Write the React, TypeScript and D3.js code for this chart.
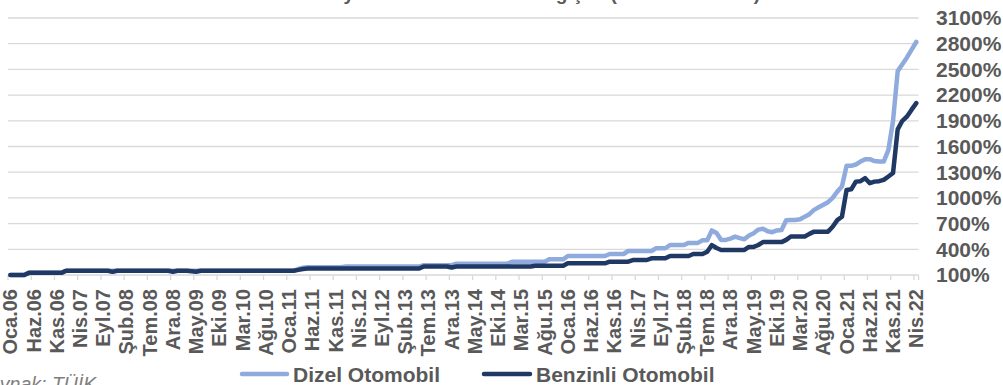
import React from "react";
import * as d3 from "d3";

const MONTHS = ["Oca", "Şub", "Mar", "Nis", "May", "Haz", "Tem", "Ağu", "Eyl", "Eki", "Kas", "Ara"];
const START_YEAR = 2006;
const N_MONTHS = 196; // Oca.06 .. Nis.22

const categories: string[] = Array.from({ length: N_MONTHS }, (_, i) => {
  const y = START_YEAR + Math.floor(i / 12);
  return `${MONTHS[i % 12]}.${String(y % 100).padStart(2, "0")}`;
});

const Y_TICKS = [100, 400, 700, 1000, 1300, 1600, 1900, 2200, 2500, 2800, 3100];

const dizel: number[] = [
  100, 100, 100, 100, 125, 125, 125, 125, 125, 125, 125, 125,
  150, 150, 150, 150, 150, 150, 150, 150, 150, 150, 150, 150,
  150, 150, 150, 150, 150, 150, 150, 150, 150, 150, 150, 150,
  150, 150, 150, 150, 150, 150, 150, 150, 150, 150, 150, 150,
  150, 150, 150, 150, 150, 150, 150, 150, 150, 150, 150, 150,
  150, 150, 170, 185, 190, 190, 190, 190, 190, 190, 190, 190,
  198, 198, 198, 198, 198, 198, 198, 198, 198, 198, 198, 198,
  198, 198, 198, 198, 198, 215, 215, 215, 215, 215, 215, 215,
  232, 232, 232, 232, 232, 232, 232, 232, 232, 232, 232, 232,
  255, 255, 255, 255, 255, 255, 255, 255, 283, 283, 283, 283,
  322, 322, 322, 322, 322, 322, 322, 322, 322, 345, 345, 345,
  345, 380, 380, 380, 380, 380, 380, 412, 412, 412, 450, 450,
  450, 450, 475, 475, 475, 505, 505, 620, 590, 510, 510, 525,
  548, 530, 517, 560, 587, 630, 640, 610, 600, 620, 626, 740,
  743, 743, 750, 781, 810, 860, 890, 920, 950, 1000, 1073, 1132,
  1374, 1374, 1390, 1424, 1452, 1452, 1430, 1424, 1424, 1560, 1900, 2480,
  2560, 2640, 2730, 2820,
];

const benzinli: number[] = [
  100, 100, 100, 100, 125, 125, 125, 125, 125, 125, 125, 125,
  150, 150, 150, 150, 150, 150, 150, 150, 150, 150, 137, 150,
  150, 150, 150, 150, 150, 150, 150, 150, 150, 150, 150, 138,
  150, 150, 150, 145, 138, 150, 150, 150, 150, 150, 150, 150,
  150, 150, 150, 150, 150, 150, 150, 150, 150, 150, 150, 150,
  150, 150, 160, 170, 175, 175, 175, 175, 175, 175, 175, 175,
  175, 175, 175, 175, 175, 175, 175, 175, 175, 175, 175, 175,
  175, 175, 175, 175, 175, 200, 200, 200, 200, 200, 200, 188,
  200, 200, 200, 200, 200, 200, 200, 200, 200, 200, 200, 200,
  200, 200, 200, 200, 200, 208, 208, 208, 208, 208, 208, 208,
  237, 237, 237, 237, 237, 237, 237, 237, 237, 256, 256, 256,
  256, 256, 275, 275, 275, 275, 295, 295, 295, 295, 322, 322,
  322, 322, 322, 345, 345, 345, 372, 450, 415, 392, 392, 392,
  392, 392, 392, 428, 428, 450, 484, 484, 484, 484, 484, 510,
  550, 550, 550, 550, 580, 606, 606, 606, 606, 664, 740, 780,
  1093, 1100, 1190, 1195, 1230, 1172, 1190, 1195, 1210, 1250, 1290, 1800,
  1900, 1950, 2030, 2106,
];

const SERIES = [
  { name: "Dizel Otomobil", values: dizel, color: "#8FAADC" },
  { name: "Benzinli Otomobil", values: benzinli, color: "#1F3864" },
];

const W = 1003;
const H = 385;
const FONT = "'Liberation Sans', Arial, sans-serif";
const TEXT = "#595959";
const GRID = "#d9d9d9";

export default function App() {
  const x = d3.scaleBand<string>().domain(categories).range([8, 918.6]).padding(0);
  const y = d3.scaleLinear().domain([100, 3100]).range([275, 18]);
  const cx = (c: string) => (x(c) as number) + x.bandwidth() / 2;

  const line = d3
    .line<number>()
    .x((_, i) => cx(categories[i]))
    .y((d) => y(d));

  const tickCats = categories.filter((_, i) => i % 5 === 0);

  return (
    <svg
      width={W}
      height={H}
      style={{ position: "absolute", left: 0, top: 0, background: "#fff" }}
      fontFamily={FONT}
    >
      <text x={499} y={-0.5} textAnchor="middle" fontSize={19} fontWeight="bold" fill={TEXT}>
        Otomobil Fiyatlarında Kümülatif Değişim (Ocak 2006=100)
      </text>

      {Y_TICKS.map((t) => (
        <g key={t}>
          <line x1={8} x2={918.6} y1={y(t)} y2={y(t)} stroke={GRID} strokeWidth={1.3} />
          <text x={936} y={y(t) + 7.3} fontSize={21} fontWeight="bold" fill={TEXT}>
            {`${t}%`}
          </text>
        </g>
      ))}

      {tickCats.map((c) => (
        <line key={"t" + c} x1={x(c)} x2={x(c)} y1={275} y2={280} stroke={GRID} strokeWidth={1.3} />
      ))}
      <line x1={918.6} x2={918.6} y1={275} y2={280} stroke={GRID} strokeWidth={1.3} />

      {tickCats.map((c) => (
        <text
          key={"l" + c}
          transform={`translate(${cx(c)},289) rotate(-90)`}
          textAnchor="end"
          dominantBaseline="central"
          fontSize={20}
          fontWeight="bold"
          fill={TEXT}
        >
          {c}
        </text>
      ))}

      {SERIES.map((s) => (
        <path
          key={s.name}
          d={line(s.values) ?? ""}
          fill="none"
          stroke={s.color}
          strokeWidth={4.5}
          strokeLinejoin="round"
          strokeLinecap="round"
        />
      ))}

      <text x={-24} y={391} fontSize={19.5} fontStyle="italic" fill="#7f7f7f">
        Kaynak: TÜİK
      </text>

      <line x1={242} x2={287} y1={374} y2={374} stroke={SERIES[0].color} strokeWidth={4.5} strokeLinecap="round" />
      <text x={293} y={381.5} fontSize={21} fontWeight="bold" fill={TEXT}>
        {SERIES[0].name}
      </text>
      <line x1={484} x2={530} y1={374} y2={374} stroke={SERIES[1].color} strokeWidth={4.5} strokeLinecap="round" />
      <text x={536} y={381.5} fontSize={21} fontWeight="bold" fill={TEXT}>
        {SERIES[1].name}
      </text>
    </svg>
  );
}
